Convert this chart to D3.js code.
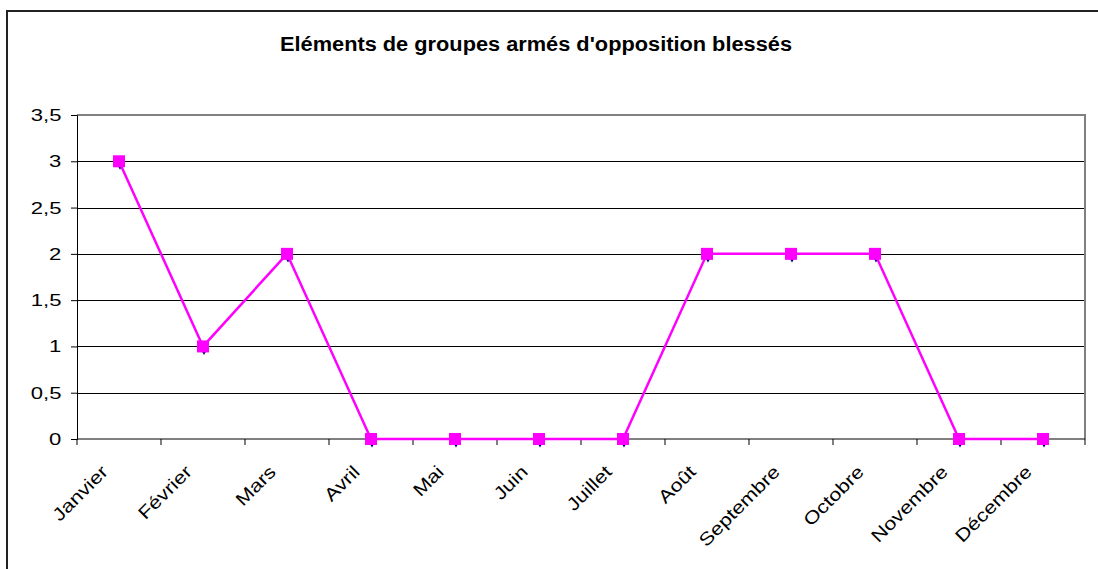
<!DOCTYPE html>
<html>
<head>
<meta charset="utf-8">
<script src="https://cdn.jsdelivr.net/npm/d3@7"></script>
<style>
  body { margin: 0; background: #fff; }
  text { font-family: "Liberation Sans", Arial, sans-serif; fill: #000; }
</style>
</head>
<body>
<script>
// chart data
var months = ["Janvier", "Février", "Mars", "Avril", "Mai", "Juin", "Juillet",
  "Août", "Septembre", "Octobre", "Novembre", "Décembre"];
var blesses = [3, 1, 2, 0, 0, 0, 0, 2, 2, 2, 0, 0];
var yTicks = [0, 0.5, 1, 1.5, 2, 2.5, 3, 3.5];
var title = "Eléments de groupes armés d'opposition blessés";

var w = 1098, h = 569;
var plotL = 77, plotR = 1085, plotT = 115, plotB = 439;

var svg = d3.select("body").append("svg")
  .attr("width", w)
  .attr("height", h);

// outer frame, runs off the right and bottom edges
svg.append("rect")
  .attr("x", 7).attr("y", 11)
  .attr("width", 1200).attr("height", 700)
  .attr("fill", "#fff")
  .attr("stroke", "#222")
  .attr("stroke-width", 2);

// scales
var x = d3.scaleBand().domain(months).range([plotL, plotR]);
var y = d3.scaleLinear().domain([0, 3.5]).range([plotB, plotT]);
var fmt = function(d) { return String(d).replace(".", ","); };

// gridlines
svg.append("g").selectAll("line")
  .data(yTicks.slice(1, -1))
  .enter().append("line")
  .attr("x1", plotL).attr("x2", plotR)
  .attr("y1", function(d) { return Math.round(y(d)) + 0.5; })
  .attr("y2", function(d) { return Math.round(y(d)) + 0.5; })
  .attr("stroke", "#000")
  .attr("stroke-width", 1);

// grey top and right edges of plot
svg.append("path")
  .attr("d", "M" + plotL + "," + plotT + "H" + plotR + "V" + plotB)
  .attr("fill", "none")
  .attr("stroke", "#808080")
  .attr("stroke-width", 2);

// y axis
var yAxis = d3.axisLeft(y).tickValues(yTicks).tickFormat(fmt).tickSizeOuter(0).tickSize(6).tickPadding(6);
var gy = svg.append("g")
  .attr("transform", "translate(" + plotL + ",0)")
  .call(yAxis);
gy.selectAll("text")
  .style("font-size", "17px")
  .attr("transform", "scale(1.3,1)"); // text is drawn wide in the original

// x axis: ticks on category boundaries
var gx = svg.append("g").attr("transform", "translate(0," + plotB + ")");
gx.append("line").attr("x1", plotL).attr("x2", plotR).attr("stroke", "#000");
gx.selectAll(".tk")
  .data(d3.range(months.length + 1))
  .enter().append("line")
  .attr("class", "tk")
  .attr("x1", function(i) { return plotL + i * x.bandwidth(); })
  .attr("x2", function(i) { return plotL + i * x.bandwidth(); })
  .attr("y1", 0).attr("y2", 6)
  .attr("stroke", "#000");
gx.selectAll(".lbl")
  .data(months)
  .enter().append("text")
  .attr("class", "lbl")
  .attr("text-anchor", "end")
  .style("font-size", "18px")
  .attr("transform", function(d) {
    return "translate(" + (x(d) + x.bandwidth() / 2 - 10) + ",34) rotate(-45) scale(1.2,1)";
  })
  .text(function(d) { return d; });

// series (a navy diamond series sits just under the magenta one)
var cx = function(d, i) { return x(months[i]) + x.bandwidth() / 2; };
var line = d3.line().x(cx).y(function(d) { return y(d); });

svg.append("g").selectAll("path")
  .data(blesses)
  .enter().append("path")
  .attr("d", d3.symbol().type(d3.symbolDiamond).size(50))
  .attr("transform", function(d, i) { return "translate(" + (cx(d, i) + 1) + "," + (y(d) + 2) + ")"; })
  .attr("fill", "#000080");

svg.append("path")
  .datum(blesses)
  .attr("d", line)
  .attr("fill", "none")
  .attr("stroke", "#ff00ff")
  .attr("stroke-width", 2.5);

svg.append("g").selectAll("rect")
  .data(blesses)
  .enter().append("rect")
  .attr("x", function(d, i) { return cx(d, i) - 6; })
  .attr("y", function(d) { return y(d) - 6; })
  .attr("width", 12).attr("height", 12)
  .attr("fill", "#ff00ff");

// title
svg.append("text")
  .attr("x", 536).attr("y", 51)
  .attr("text-anchor", "middle")
  .style("font-size", "20px")
  .style("font-weight", "bold")
  .attr("textLength", 512)
  .attr("lengthAdjust", "spacingAndGlyphs")
  .text(title);
</script>
</body>
</html>
